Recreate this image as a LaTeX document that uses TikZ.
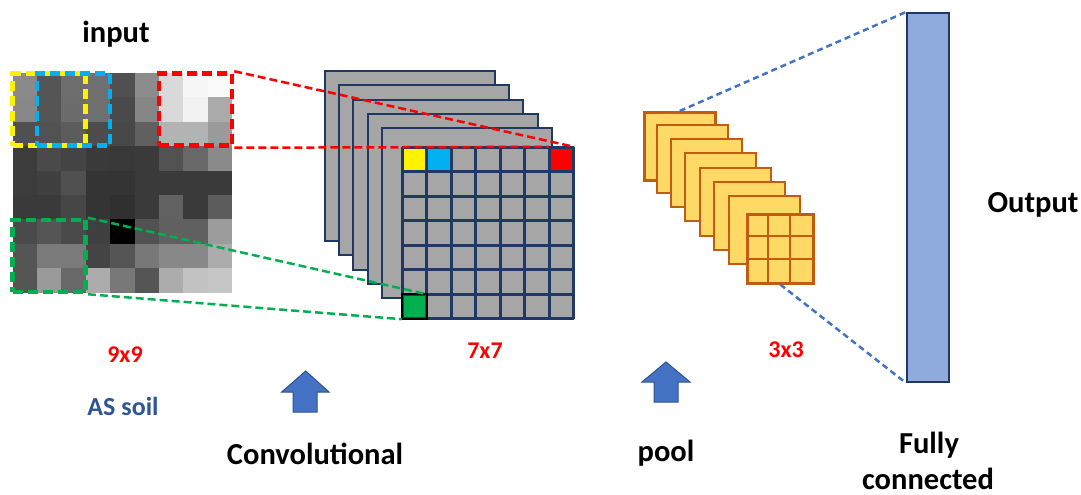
\documentclass[tikz,border=0pt]{standalone}
\usepackage{fontspec}
\setmainfont{Carlito}
\usetikzlibrary{calc}
\definecolor{navy}{HTML}{1F3864}
\definecolor{fmgray}{HTML}{A6A6A6}
\definecolor{poolfill}{HTML}{FFD966}
\definecolor{pooledge}{HTML}{C55A11}
\definecolor{fcfill}{HTML}{8FAADC}
\definecolor{arrowblue}{HTML}{4472C4}
\definecolor{arrowedge}{HTML}{2F528F}
\definecolor{cyanbox}{HTML}{00B0F0}
\definecolor{greenbox}{HTML}{00B050}
\definecolor{soilblue}{HTML}{2F5597}
\definecolor{linkblue}{HTML}{4472C4}
\tikzset{
  win/.style={rectangle, inner sep=0pt, minimum width=73pt, minimum height=72pt,
    line width=4.5pt, dash pattern=on 10pt off 5pt},
  link/.style={line width=2.5pt, dash pattern=on 8pt off 4pt},
  fmsheet/.style={fill=fmgray, draw=navy, line width=2pt},
  poolsheet/.style={fill=poolfill, draw=pooledge, line width=2.5pt},
  fmcell/.style={rectangle, inner sep=0pt, minimum size=24.57pt, draw=none},
  upblock/.style={fill=arrowblue, draw=arrowedge, line width=1pt},
  big/.style={font=\fontsize{30.5}{36}\selectfont\bfseries, anchor=base, inner sep=1pt},
  small/.style={font=\fontsize{24}{28}\selectfont\bfseries, anchor=base, text=red},
}
\begin{document}
\begin{tikzpicture}[x=1pt, y=-1pt]
\useasboundingbox (0,0) rectangle (1081,495);
\fill[white] (0,0) rectangle (1081,495);

% ---------- input image 9x9 ----------
\def\cs{24.4}
\foreach \vals [count=\r from 0] in {
  {138,85,110,112,80,140,217,247,251},
  {136,85,108,112,74,134,217,242,170},
  {80,82,92,76,72,96,179,179,154},
  {60,74,68,58,56,58,82,104,138},
  {60,64,80,52,52,58,58,58,58},
  {58,58,70,52,48,58,98,58,92},
  {74,85,74,64,0,82,96,96,156},
  {85,122,122,68,85,120,136,136,172},
  {85,154,104,172,120,85,172,194,198}} {
  \foreach \v [count=\c from 0] in \vals {
    \pgfmathsetmacro\p{100-\v/2.55}
    \fill[black!\p] (12.5+\c*\cs,73+\r*\cs) rectangle ++(\cs,\cs);
  }
}
\node[win, draw=yellow] (ybox) at (49.1,109.5) {};
\node[win, draw=cyanbox] (bbox) at (73.5,109.5) {};
\node[win, draw=red] (rbox) at (195.5,109.5) {};
\node[win, draw=greenbox] (gbox) at (49.1,256) {};

% ---------- convolution feature maps ----------
\foreach \x/\y in {325/71, 339/85, 353/100, 368/114, 382/128}
  \draw[fmsheet] (\x,\y) rectangle ++(170,170);
\fill[fmgray] (402,147) rectangle (574,319);
\node[fmcell, fill=yellow] (ycell) at (402+0.5*24.57,147+0.5*24.57) {};
\node[fmcell, fill=cyanbox] (bcell) at (402+1.5*24.57,147+0.5*24.57) {};
\node[fmcell, fill=red] (rcell) at (402+6.5*24.57,147+0.5*24.57) {};
\node[fmcell, fill=greenbox] (gcell) at (402+0.5*24.57,147+6.5*24.57) {};
\foreach \i in {0,...,7} {
  \draw[navy, line width=3pt] (402+\i*24.57,147) -- (402+\i*24.57,319);
  \draw[navy, line width=3pt] (402,147+\i*24.57) -- (574,147+\i*24.57);
}
\draw[black, line width=2pt] (gcell.north west) rectangle (gcell.south east);

% connectors input -> feature map
\draw[link, red] (rbox.north east) -- (rcell.north east);
\draw[link, red] (rbox.south east) -- (rcell.north west);
\draw[link, greenbox] (gbox.north east) -- (gcell.north east);
\draw[link, greenbox] (gbox.south east) -- (gcell.south west);

% ---------- pooling maps ----------
\node[poolsheet, rectangle, inner sep=0pt, minimum width=71pt, minimum height=68pt, anchor=north west] (ps1) at (643,111) {};
\foreach \x/\y in {657/125, 671/139, 685/153, 700/168, 714/182, 729/196}
  \draw[poolsheet] (\x,\y) rectangle ++(71,68);
\node[poolsheet, rectangle, inner sep=0pt, minimum width=66pt, minimum height=69pt, anchor=north west] (pfront) at (746,213) {};
\foreach \i in {1,2} {
  \draw[pooledge, line width=2.5pt] (746+\i*22,213) -- (746+\i*22,282);
  \draw[pooledge, line width=2.5pt] (746,213+\i*23) -- (812,213+\i*23);
}

% ---------- fully connected ----------
\node[rectangle, fill=fcfill, draw=navy, line width=2pt, inner sep=0pt,
  minimum width=42pt, minimum height=369pt, anchor=north west] (fc) at (906,12) {};
\draw[linkblue, line width=2.5pt, dash pattern=on 6pt off 4pt] (ps1.north) -- (fc.north west);
\draw[linkblue, line width=2.5pt, dash pattern=on 6pt off 4pt] (pfront.south) -- (fc.south west);

% ---------- block arrows ----------
\draw[upblock] (305.7,371) -- (329,392) -- (317,392) -- (317,412) -- (293,412) -- (293,392) -- (281.7,392) -- cycle;
\draw[upblock] (666,362) -- (690,382) -- (678,382) -- (678,402) -- (654,402) -- (654,382) -- (642,382) -- cycle;

% ---------- labels ----------
\node[big] (tinput) at (116,43) {input};
\node[big] (toutput) at (1033,212) {Output};
\node[small] (t9) at (125,362) {9x9};
\node[font=\fontsize{26}{30}\selectfont\bfseries, anchor=base, text=soilblue] (tsoil) at (123,415) {AS soil};
\node[small] (t7) at (485,358) {7x7};
\node[small] (t3) at (786,357) {3x3};
\node[big] (tconv) at (315,464) {Convolutional};
\node[big] (tpool) at (666,461) {pool};
\node[big] (tfully) at (929,453) {Fully};
\node[big] (tconn) at (928,489) {connected};
\end{tikzpicture}
\end{document}
